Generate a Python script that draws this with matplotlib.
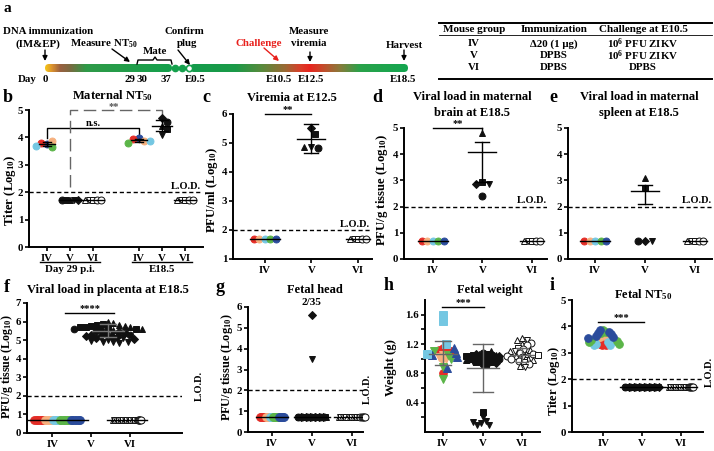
import numpy as np
import matplotlib
matplotlib.use('Agg')
import matplotlib.pyplot as plt
from matplotlib.patches import FancyBboxPatch
from matplotlib.colors import LinearSegmentedColormap

plt.rcParams['font.family'] = ['Liberation Serif', 'DejaVu Serif']
plt.rcParams['font.weight'] = 'bold'
plt.rcParams['mathtext.fontset'] = 'custom'
plt.rcParams['mathtext.rm'] = 'Liberation Serif:bold'
plt.rcParams['mathtext.bf'] = 'Liberation Serif:bold'
plt.rcParams['mathtext.it'] = 'Liberation Serif:bold:italic'

# ---------------- data ----------------
RED, PEACH, CYAN, GREEN, BLUE = '#e42d27', '#f6b07e', '#74c7e2', '#5bb548', '#2b4c9c'
IV_COLS = [RED, PEACH, CYAN, GREEN, BLUE]
BLK = '#111111'
BLACK_MK = ['o', 's', '^', 'v', 'D']
OPEN_MK = ['^', 'v', 's', 'o', 'o']
groups = ['IV', 'V', 'VI']

# b  maternal NT50
b_iv1 = [3.75, 3.88, 3.80, 3.66, 3.68]
b_iv1_cols = [BLUE, PEACH, RED, GREEN, CYAN]
b_v1 = [1.7] * 5
b_vi1 = [1.7] * 5
b_iv2 = [3.96, 3.86, 3.95, 3.81, 3.86]
b_iv2_cols = [BLUE, PEACH, RED, GREEN, CYAN]
b_v2 = [4.70, 4.57, 4.43, 4.30, 4.10]
b_v2_mk = ['D', 'o', '^', 's', 'v']
b_vi2 = [1.7] * 5
b_iv1_stats = (3.76, 3.70, 3.82)
b_iv2_stats = (3.89, 3.84, 3.94)
b_v2_stats = (4.42, 4.23, 4.62)

# c  viremia
c_iv = [1.7] * 5
c_v = [5.50, 5.30, 4.85, 4.82, 4.85]
c_v_mk = ['D', 's', 'v', 'o', '^']
c_vi = [1.7] * 5
c_v_stats = (5.15, 4.65, 5.65)

# d  brain
d_iv = [0.7] * 5
d_v = [4.80, 2.95, 2.85, 2.85, 2.40]
d_v_mk = ['^', 's', 'v', 'D', 'o']
d_vi = [0.7] * 5
d_v_stats = (4.10, 2.95, 4.45)

# e  spleen
e_iv = [0.7] * 5
e_v = [3.10, 2.70, 0.70, 0.70, 0.70]
e_v_mk = ['^', 's', 'D', 'v', 'o']
e_vi = [0.7] * 5
e_v_stats = (2.58, 2.10, 2.82)

# f  placenta
f_iv = [0.7] * 35
f_iv_counts = [8, 6, 5, 8, 8]
f_v_sq = [5.85, 5.80, 5.78, 5.72, 5.70, 5.65, 5.60]
f_v_ci = [5.60, 5.55, 5.50, 5.45, 5.40, 5.35, 5.30]
f_v_tr = [6.00, 5.90, 5.80, 5.75, 5.70, 5.60, 5.55]
f_v_dn = [5.10, 5.00, 4.95, 4.90, 4.88, 4.85, 4.90]
f_v_di = [5.30, 5.25, 5.20, 5.15, 5.10, 5.05, 5.20]
f_vi = [0.7] * 35
f_v_stats = (5.50, 5.15, 5.85)

# g  fetal head
g_iv = [0.7] * 25
g_iv_counts = [6, 4, 3, 6, 6]
g_v_pos = [5.6, 3.5]
g_v_pos_mk = ['D', 'v']
g_v = [0.7] * 33
g_vi = [0.7] * 25

# h  fetal weight
h_iv_red = [1.15, 1.13, 1.12, 1.10, 0.80]
h_iv_peach = [1.05, 1.00, 0.97, 1.02]
h_iv_green = [1.10, 1.05, 1.00, 0.88, 0.72]
h_iv_blue = [1.15, 1.08, 1.05, 1.02, 0.87]
h_iv_cyan = [1.60, 1.52, 1.20, 1.07]
h_v_hi = [1.08, 1.07, 1.07, 1.06, 1.06, 1.05, 1.05, 1.05, 1.04, 1.04, 1.03,
          1.03, 1.02, 1.02, 1.01, 1.01, 1.00, 1.00, 1.00, 0.99, 0.99, 0.98,
          0.98, 0.97, 0.97, 0.96, 0.96, 0.95, 0.95, 0.94, 0.93, 0.92, 1.10]
h_v_lo = [0.27, 0.20, 0.15, 0.12, 0.10, 0.10, 0.14]
h_vi = [1.28, 1.26, 1.25, 1.22, 1.20, 1.18, 1.15, 1.13, 1.12, 1.10, 1.10, 1.08,
        1.07, 1.06, 1.05, 1.04, 1.03, 1.02, 1.00, 1.00, 0.98, 0.97, 0.95, 0.93,
        0.90, 0.88]
h_iv_stats = (1.07, 0.91, 1.24)
h_v_stats = (0.87, 0.54, 1.20)
h_vi_stats = (1.05, 0.95, 1.15)

# i  fetal NT50
i_red = [3.55, 3.50, 3.45, 3.40, 3.35, 3.30, 3.30]
i_peach = [3.65, 3.60, 3.58, 3.55, 3.50]
i_cyan = [3.50, 3.45, 3.40, 3.35, 3.30, 3.28]
i_green = [3.85, 3.80, 3.75, 3.50, 3.45, 3.40, 3.35]
i_blue = [3.85, 3.80, 3.75, 3.70, 3.65, 3.60, 3.55]
i_v = [1.7] * 35
i_vi = [1.7] * 25

# ---------------- figure ----------------
W, H = 714, 451
fig = plt.figure(figsize=(W / 100, H / 100), dpi=100)
ov = fig.add_axes([0, 0, 1, 1], zorder=0)
ov.axis('off')

TICK = 7.8
TITLE = 9.0
YLAB = 9.2
LET = 13


def grad_bar(x0, x1, stops, yc=68, h=8):
    pos = [(x - x0) / (x1 - x0) for x, c in stops]
    cm = LinearSegmentedColormap.from_list('g', list(zip(pos, [c for x, c in stops])))
    im = ov.imshow(np.linspace(0, 1, 400)[None, :], cmap=cm, aspect='auto',
                   extent=[x0, x1, yc + h / 2, yc - h / 2], interpolation='bilinear', zorder=2)
    box = FancyBboxPatch((x0, yc - h / 2), x1 - x0, h, boxstyle='round,pad=0,rounding_size=4',
                         transform=ov.transData, fc='none', ec='none')
    ov.add_patch(box)
    im.set_clip_path(box)


def arrow(x0, y0, x1, y1, color='k'):
    ov.annotate('', xy=(x1, y1), xytext=(x0, y0),
                arrowprops=dict(arrowstyle='-|>', color=color, lw=1, mutation_scale=7, shrinkA=0, shrinkB=0))


def txt(x, y, s, size=7.8, **kw):
    ov.text(x, y, s, fontsize=size, ha=kw.pop('ha', 'center'), va=kw.pop('va', 'center'), **kw)


# panel a timeline
txt(7, 9, 'a', size=11)
grad_bar(45, 172, [(45, '#f5c518'), (52, '#d99030'), (60, '#9a6040'), (70, '#7a6a40'),
                   (86, '#2f9a48'), (172, '#14a04c')])
grad_bar(190, 408, [(190, '#149c4c'), (235, '#1a9a48'), (262, '#5a8a3c'), (285, '#9a6a34'),
                    (300, '#d8402a'), (310, '#e8251f'), (322, '#c8482a'), (340, '#8a7a3a'),
                    (360, '#2aa24a'), (408, '#14a650')])
ov.plot([175, 182], [68, 68], 'o', color='#14a04c', ms=4.5)
ov.plot([189], [68], 'o', mfc='white', mec='#14a04c', mew=1.2, ms=4.5)
for x, s in [(27, 'Day'), (45, '0'), (130, '29'), (142, '30'), (166, '37'), (195, 'E0.5'),
             (279, 'E10.5'), (311, 'E12.5'), (403, 'E18.5')]:
    txt(x, 79, s)
txt(48, 32, 'DNA immunization')
txt(38, 44, '(IM&EP)')
arrow(45, 50, 45, 61)
txt(104, 44, 'Measure NT$_{50}$')
arrow(112, 49, 130, 62)
ov.plot([137, 138, 153, 155, 157, 171, 172], [64, 60, 60, 57, 60, 60, 64], color='k', lw=1)
txt(155, 52, 'Mate')
txt(184, 31, 'Confirm')
txt(187, 43, 'plug')
arrow(178, 50, 190, 65)
txt(259, 43, 'Challenge', color='#e8201c')
arrow(264, 48, 279, 61, color='#e8201c')
txt(309, 31, 'Measure')
txt(309, 43, 'viremia')
arrow(310, 52, 310, 62)
txt(404, 45, 'Harvest')
arrow(404, 50, 404, 61)

# table
ov.plot([439, 712], [23, 23], color='k', lw=1.4)
ov.plot([439, 712], [35, 35], color='k', lw=0.6)
ov.plot([439, 712], [79, 79], color='k', lw=1.4)
cols_x = [474, 554, 643]
for x, s in zip(cols_x, ['Mouse group', 'Immunization', 'Challenge at E10.5']):
    txt(x, 29, s, size=8)
rows = [('IV', 'Δ20 (1 μg)', '10$^{6}$ PFU ZIKV'), ('V', 'DPBS', '10$^{6}$ PFU ZIKV'),
        ('VI', 'DPBS', 'DPBS')]
for y, row in zip([44, 56, 68], rows):
    for x, s in zip(cols_x, row):
        txt(x, y, s, size=7.8)


# ---------------- helpers for data panels ----------------
def panel(l, r, t, b, xlim, ylim, yticks, xticks=(1, 2, 3), xlabels=groups):
    ax = fig.add_axes([l / W, 1 - b / H, (r - l) / W, (b - t) / H], zorder=2)
    ax.set_facecolor('none')
    ax.set_xlim(*xlim)
    ax.set_ylim(*ylim)
    for s in ['top', 'right']:
        ax.spines[s].set_visible(False)
    for s in ['left', 'bottom']:
        ax.spines[s].set_linewidth(1.4)
    ax.set_yticks(yticks)
    ax.set_xticks(list(xticks))
    ax.set_xticklabels(xlabels)
    ax.tick_params(direction='out', length=3, width=1.2, labelsize=TICK, pad=2)
    ax.tick_params(axis='y', pad=1.2)
    ax.pxx = (r - l) / (xlim[1] - xlim[0])
    ax.pxy = (b - t) / (ylim[1] - ylim[0])
    return ax


def swarm(ys, d, pxy):
    placed, out = [], []
    for y in ys:
        yp = y * pxy
        cands = [0.0]
        for px_, py_ in placed:
            dy = yp - py_
            if abs(dy) < d:
                dx = np.sqrt(d * d - dy * dy)
                cands += [px_ + dx, px_ - dx]
        cands.sort(key=abs)
        for c in cands:
            if all((c - px_) ** 2 + (yp - py_) ** 2 >= d * d - 1e-6 for px_, py_ in placed):
                break
        placed.append((c, yp))
        out.append(c)
    return np.array(out)


def dots(ax, x0, ys, colors, markers, filled=True, band=None, d=7, ms=5):
    n = len(ys)
    if band is not None:
        off = np.linspace(-band / 2, band / 2, n)
    else:
        off = swarm(ys, d, ax.pxy)
    for k in range(n):
        c = colors[k % len(colors)]
        m = markers[k % len(markers)]
        size = ms * 0.8 if m == 'D' else ms
        ax.plot(x0 + off[k] / ax.pxx, ys[k], marker=m, ms=size, ls='none',
                mfc=c if filled else 'white', mec=c if filled else BLK, mew=0.7,
                clip_on=False, zorder=3)


def meanbar(ax, x0, stats=None, y=None, half=10, cap=6, color='k', lw=1):
    if stats is None:
        ax.plot([x0 - half / ax.pxx, x0 + half / ax.pxx], [y, y], color=color, lw=lw, zorder=4)
        return
    m, lo, hi = stats
    ax.plot([x0 - half / ax.pxx, x0 + half / ax.pxx], [m, m], color=color, lw=lw, zorder=4)
    ax.plot([x0, x0], [lo, hi], color=color, lw=lw, zorder=4)
    for v in (lo, hi):
        ax.plot([x0 - cap / ax.pxx, x0 + cap / ax.pxx], [v, v], color=color, lw=lw, zorder=4)


def lod(ax, x=None, rotated=False, ypos=None):
    ax.axhline(2, color='k', lw=1, dashes=(3, 2), zorder=1)
    if rotated:
        ax.text(x, ypos, 'L.O.D.', rotation=90, ha='center', va='center', fontsize=7.5,
                clip_on=False)
    else:
        ax.text(x, 2.05, 'L.O.D.', ha='right', va='bottom', fontsize=7.5)


def sig(ax, x1, x2, y, s, drop=None, color='k'):
    ax.plot([x1, x2], [y, y], color=color, lw=1, clip_on=False)
    if drop is not None:
        ax.plot([x2, x2], [y, drop], color=color, lw=1, clip_on=False)
    ax.text((x1 + x2) / 2, y, s, ha='center', va='bottom', fontsize=7.5, color=color)


def colored(counts):
    cols = []
    for c, n in zip(IV_COLS, counts):
        cols += [c] * n
    return cols


# ---------------- b ----------------
axb = panel(29, 203, 110, 247, (0.22, 7.78), (0, 5), range(6), xticks=(1, 2, 3, 5, 6, 7),
            xlabels=groups + groups)
lod(axb, x=7.7)
dots(axb, 1, b_iv1, b_iv1_cols, ['o'], d=6)
meanbar(axb, 1, b_iv1_stats, half=8, cap=4)
dots(axb, 2, b_v1, [BLK], BLACK_MK, band=16)
meanbar(axb, 2, y=1.7, half=11)
dots(axb, 3, b_vi1, [BLK], OPEN_MK, filled=False, band=16)
meanbar(axb, 3, y=1.7, half=11)
dots(axb, 5, b_iv2, b_iv2_cols, ['o'], d=6)
meanbar(axb, 5, b_iv2_stats, half=8, cap=4)
dots(axb, 6, b_v2, [BLK], b_v2_mk, d=6)
meanbar(axb, 6, b_v2_stats, half=10, cap=6)
dots(axb, 7, b_vi2, [BLK], OPEN_MK, filled=False, band=16)
meanbar(axb, 7, y=1.7, half=11)
axb.plot([1, 1, 5, 5], [3.98, 4.34, 4.34, 4.09], color='k', lw=1)
axb.text(3, 4.36, 'n.s.', ha='center', va='bottom', fontsize=7.5)
axb.plot([2, 2, 6, 6], [2.2, 5.0, 5.0, 4.78], color='#666666', lw=1, dashes=(9, 4), clip_on=False)
axb.text(3.9, 4.96, '**', ha='center', va='bottom', fontsize=7.5, color='#555555')
ov.plot([40, 100], [262, 262], color='k', lw=1)
ov.plot([132, 192], [262, 262], color='k', lw=1)
txt(70, 270, 'Day 29 p.i.')
txt(162, 270, 'E18.5')
txt(8, 97, 'b', size=LET)
txt(113, 96, 'Maternal NT$_{50}$', size=TITLE)
txt(9.5, 190, 'Titer (Log$_{10}$)', size=YLAB, rotation=90)

# ---------------- c ----------------
axc = panel(233, 372, 114, 259, (0.32, 3.3), (1, 6), range(1, 7))
lod(axc, x=3.26)
dots(axc, 1, c_iv, IV_COLS, ['o'], band=22)
meanbar(axc, 1, y=1.7, half=15)
dots(axc, 2, c_v, [BLK], c_v_mk, d=7)
meanbar(axc, 2, c_v_stats, half=14, cap=7)
dots(axc, 3, c_vi, [BLK], OPEN_MK, filled=False, band=16)
meanbar(axc, 3, y=1.7, half=12)
sig(axc, 1, 2, 6.0, '**')
txt(206, 97, 'c', size=LET)
txt(292, 98, 'Viremia at E12.5', size=TITLE)
txt(212, 190, 'PFU/ml (Log$_{10}$)', size=YLAB, rotation=90)

# ---------------- d ----------------
axd = panel(404, 547, 128, 259, (0.42, 3.3), (0, 5), range(6))
lod(axd, x=3.3)
dots(axd, 1, d_iv, IV_COLS, ['o'], band=22)
meanbar(axd, 1, y=0.7, half=15)
dots(axd, 2, d_v, [BLK], d_v_mk, d=7)
meanbar(axd, 2, d_v_stats, half=14, cap=7)
dots(axd, 3, d_vi, [BLK], OPEN_MK, filled=False, band=16)
meanbar(axd, 3, y=0.7, half=12)
sig(axd, 1, 2, 5.0, '**', drop=4.85)
txt(377, 97, 'd', size=LET)
txt(472, 97, 'Viral load in maternal', size=TITLE)
txt(472, 113, 'brain at E18.5', size=TITLE)
txt(382, 190, 'PFU/g tissue (Log$_{10}$)', size=YLAB, rotation=90)

# ---------------- e ----------------
axe = panel(568, 712, 128, 259, (0.46, 3.34), (0, 5), range(6))
lod(axe, x=3.34)
dots(axe, 1, e_iv, IV_COLS, ['o'], band=22)
meanbar(axe, 1, y=0.7, half=15)
dots(axe, 2, e_v, [BLK], e_v_mk, d=7)
meanbar(axe, 2, e_v_stats, half=14, cap=7)
dots(axe, 3, e_vi, [BLK], OPEN_MK, filled=False, band=16)
meanbar(axe, 3, y=0.7, half=12)
txt(553, 97, 'e', size=LET)
txt(639, 97, 'Viral load in maternal', size=TITLE)
txt(639, 113, 'spleen at E18.5', size=TITLE)

# ---------------- f ----------------
axf = panel(27, 182, 303, 433, (0.35, 4.35), (0, 7), range(8))
lod(axf, x=4.8, rotated=True, ypos=2.55)
dots(axf, 1.13, f_iv, colored(f_iv_counts), ['o'], band=46, ms=5.5)
meanbar(axf, 1.13, y=0.7, half=31)
f_v = f_v_sq + f_v_ci + f_v_tr + f_v_dn + f_v_di
f_v_mk = ['s'] * 7 + ['o'] * 7 + ['^'] * 7 + ['v'] * 7 + ['D'] * 7
order = np.argsort(f_v)[::-1]
dots(axf, 2.44, [f_v[k] for k in order], [BLK], [f_v_mk[k] for k in order], d=5.8, ms=4.8)
meanbar(axf, 2.44, f_v_stats, half=16, cap=8, color='#777777')
dots(axf, 2.93, f_vi, [BLK], ['^', 'v', 's', '^', 'v'] * 6 + ['o'] * 5, filled=False, band=28, ms=5)
meanbar(axf, 2.93, y=0.7, half=20)
sig(axf, 1.33, 2.6, 6.45, '****')
txt(7, 288, 'f', size=LET)
txt(108, 290, 'Viral load in placenta at E18.5', size=TITLE)
txt(7, 367, 'PFU/g tissue (Log$_{10}$)', size=8.6, rotation=90)

# ---------------- g ----------------
axg = panel(248, 363, 307, 432, (0.4, 3.28), (0, 6), range(7))
lod(axg, x=3.38, rotated=True, ypos=2.07)
dots(axg, 1, g_iv, colored(g_iv_counts), ['o'], band=24, ms=5.5)
meanbar(axg, 1, y=0.7, half=16)
dots(axg, 2, g_v_pos, [BLK], g_v_pos_mk, d=6)
dots(axg, 2, g_v, [BLK], BLACK_MK, band=28)
meanbar(axg, 2, y=0.7, half=18)
dots(axg, 3, g_vi, [BLK], ['^', 'v', 's', '^', 'v'] * 4 + ['o'] * 5, filled=False, band=26)
meanbar(axg, 3, y=0.7, half=18)
axg.text(2, 6.0, '2/35', ha='center', va='bottom', fontsize=8)
txt(220, 287, 'g', size=LET)
txt(315, 290, 'Fetal head', size=TITLE)
txt(227, 367, 'PFU/g tissue (Log$_{10}$)', size=8.8, rotation=90)

# ---------------- h ----------------
axh = panel(425, 540, 300, 432, (0.55, 3.45), (0, 1.8), [0.4, 0.8, 1.2, 1.6])
axh.set_yticks([0.2, 0.6, 1.0, 1.4], minor=True)
axh.tick_params(which='minor', direction='out', length=3, width=1.2)
h_iv = h_iv_red + h_iv_peach + h_iv_green + h_iv_blue + h_iv_cyan
h_iv_cols = ([RED] * len(h_iv_red) + [PEACH] * len(h_iv_peach) + [GREEN] * len(h_iv_green)
             + [BLUE] * len(h_iv_blue) + [CYAN] * len(h_iv_cyan))
h_iv_mk = (['o'] * len(h_iv_red) + ['v'] * len(h_iv_peach) + ['v'] * len(h_iv_green)
           + ['^'] * len(h_iv_blue) + ['s'] * len(h_iv_cyan))
dots(axh, 1, h_iv, h_iv_cols, h_iv_mk, d=4.6, ms=5.5)
meanbar(axh, 1, h_iv_stats, half=14, cap=8, color='#666666')
dots(axh, 2, h_v_hi, [BLK], BLACK_MK, d=3.4, ms=5)
dots(axh, 2, h_v_lo, [BLK], ['s', 'v', 'v', 'v', 'v', 'v', 'v'], d=5, ms=5)
meanbar(axh, 2, h_v_stats, half=16, cap=10, color='#666666')
dots(axh, 3, h_vi, [BLK], ['^', 'v', '^', 'o', '^', 'o', 's', 'o'], filled=False, d=5.2, ms=5)
meanbar(axh, 3, h_vi_stats, half=12, cap=6, color='#666666')
sig(axh, 0.98, 2.05, 1.71, '***')
txt(389, 285, 'h', size=LET)
txt(490, 290, 'Fetal weight', size=TITLE)
txt(391, 368, 'Weight (g)', size=YLAB, rotation=90)

# ---------------- i ----------------
axi = panel(572, 703, 300, 432, (0.2, 3.56), (0, 5), range(6))
lod(axi, x=3.72, rotated=True, ypos=2.27)
i_iv = i_red + i_peach + i_cyan + i_green + i_blue
i_iv_cols = ([RED] * len(i_red) + [PEACH] * len(i_peach) + [CYAN] * len(i_cyan)
             + [GREEN] * len(i_green) + [BLUE] * len(i_blue))
dots(axi, 1, i_iv, i_iv_cols, ['o'], d=3.2, ms=5.5)
dots(axi, 2, i_v, [BLK], BLACK_MK, band=34)
meanbar(axi, 2, y=1.7, half=22)
dots(axi, 3, i_vi, [BLK], ['^', 'v', 's', '^', 'v'] * 4 + ['o'] * 5, filled=False, band=24)
meanbar(axi, 3, y=1.7, half=16)
sig(axi, 0.87, 2.05, 4.17, '***')
txt(552, 285, 'i', size=LET)
txt(643, 295, 'Fetal NT$_{50}$', size=TITLE)
txt(554, 381, 'Titer (Log$_{10}$)', size=9, rotation=90)

ov.set_xlim(0, W)
ov.set_ylim(H, 0)
fig.savefig('out.png', dpi=100)
